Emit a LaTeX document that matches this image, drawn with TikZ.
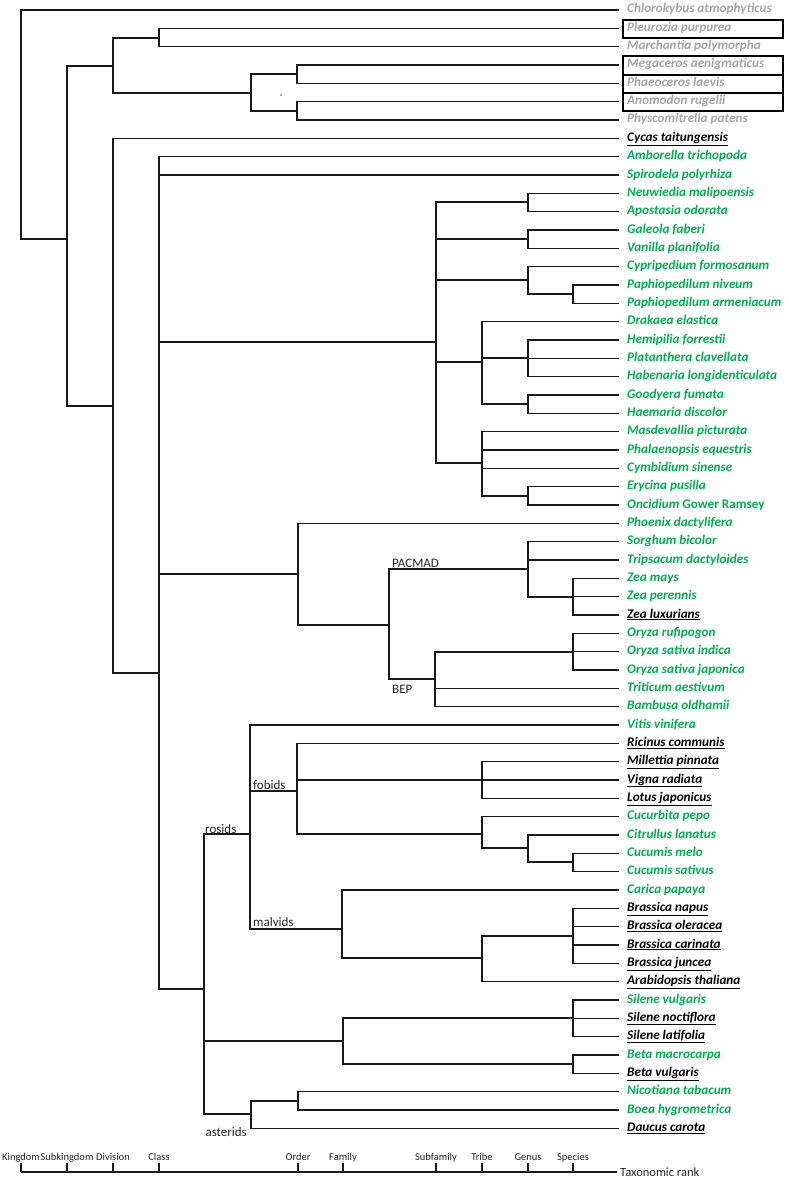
\documentclass[tikz,border=0pt]{standalone}
\usepackage{fontspec}
\setmainfont{Carlito}
\definecolor{spgreen}{RGB}{0,176,80}
\definecolor{spgrey}{RGB}{165,165,165}
\newcommand{\ulsp}[1]{\underline{#1}}

\begin{document}
\begin{tikzpicture}[x=1pt,y=-1pt,
    tree/.style={line width=1.4pt,draw=black!90,line join=miter},
    leaf/.style={anchor=west,inner xsep=8pt,inner ysep=0pt,text height=9pt,text depth=3pt},
    gr/.style={leaf,text=spgrey,font=\fontsize{13.2}{15}\selectfont\bfseries\itshape},
    gn/.style={leaf,text=spgreen,font=\fontsize{13.2}{15}\selectfont\bfseries\itshape},
    bk/.style={leaf,text=black,font=\fontsize{13.2}{15}\selectfont\bfseries\itshape},
    clade/.style={inner sep=0pt,text=black!85,font=\fontsize{13}{15}\selectfont},
    rank/.style={anchor=base,inner sep=0pt,text=black!85,font=\fontsize{10.5}{12}\selectfont}]
\useasboundingbox (0,0) rectangle (789,1180);

% leaves
\node[gr] (chl) at (619,10) {Chlorokybus atmophyticus};
\node[gr] (ple) at (619,28.3) {Pleurozia purpurea};
\node[gr] (mar) at (619,46.7) {Marchantia polymorpha};
\node[gr] (meg) at (619,65) {Megaceros aenigmaticus};
\node[gr] (pha) at (619,83.3) {Phaeoceros laevis};
\node[gr] (ano) at (619,101.7) {Anomodon rugelii};
\node[gr] (phy) at (619,120) {Physcomitrella patens};
\node[bk] (cyc) at (619,138.3) {\ulsp{Cycas taitungensis}};
\node[gn] (amb) at (619,156.7) {Amborella trichopoda};
\node[gn] (spi) at (619,175) {Spirodela polyrhiza};
\node[gn] (neu) at (619,193.3) {Neuwiedia malipoensis};
\node[gn] (aps) at (619,211.7) {Apostasia odorata};
\node[gn] (gal) at (619,230) {Galeola faberi};
\node[gn] (vpl) at (619,248.3) {Vanilla planifolia};
\node[gn] (cfo) at (619,266.7) {Cypripedium formosanum};
\node[gn] (pni) at (619,285) {Paphiopedilum niveum};
\node[gn] (par) at (619,303.3) {Paphiopedilum armeniacum};
\node[gn] (del) at (619,321.7) {Drakaea elastica};
\node[gn] (hfo) at (619,340) {Hemipilia forrestii};
\node[gn] (pcl) at (619,358.3) {Platanthera clavellata};
\node[gn] (hlo) at (619,376.7) {Habenaria longidenticulata};
\node[gn] (gfu) at (619,395) {Goodyera fumata};
\node[gn] (hdi) at (619,413.3) {Haemaria discolor};
\node[gn] (mpi) at (619,431.7) {Masdevallia picturata};
\node[gn] (peq) at (619,450) {Phalaenopsis equestris};
\node[gn] (csi) at (619,468.3) {Cymbidium sinense};
\node[gn] (epu) at (619,486.7) {Erycina pusilla};
\node[gn] (ogr) at (619,505) {Oncidium {\upshape Gower Ramsey}};
\node[gn] (pda) at (619,523.3) {Phoenix dactylifera};
\node[gn] (sbi) at (619,541.7) {Sorghum bicolor};
\node[gn] (tda) at (619,560) {Tripsacum dactyloides};
\node[gn] (zma) at (619,578.3) {Zea mays};
\node[gn] (zpe) at (619,596.7) {Zea perennis};
\node[bk] (zlu) at (619,615) {\ulsp{Zea luxurians}};
\node[gn] (oru) at (619,633.3) {Oryza rufipogon};
\node[gn] (osi) at (619,651.7) {Oryza sativa indica};
\node[gn] (osj) at (619,670) {Oryza sativa japonica};
\node[gn] (tae) at (619,688.3) {Triticum aestivum};
\node[gn] (bol) at (619,706.7) {Bambusa oldhamii};
\node[gn] (vvi) at (619,725) {Vitis vinifera};
\node[bk] (rco) at (619,743.3) {\ulsp{Ricinus communis}};
\node[bk] (mpn) at (619,761.7) {\ulsp{Millettia pinnata}};
\node[bk] (vra) at (619,780) {\ulsp{Vigna radiata}};
\node[bk] (lja) at (619,798.3) {\ulsp{Lotus japonicus}};
\node[gn] (cpe) at (619,816.7) {Cucurbita pepo};
\node[gn] (cla) at (619,835) {Citrullus lanatus};
\node[gn] (cme) at (619,853.3) {Cucumis melo};
\node[gn] (csa) at (619,871.7) {Cucumis sativus};
\node[gn] (cpa) at (619,890) {Carica papaya};
\node[bk] (bna) at (619,908.3) {\ulsp{Brassica napus}};
\node[bk] (bole) at (619,926.7) {\ulsp{Brassica oleracea}};
\node[bk] (bca) at (619,945) {\ulsp{Brassica carinata}};
\node[bk] (bju) at (619,963.3) {\ulsp{Brassica juncea}};
\node[bk] (ath) at (619,981.7) {\ulsp{Arabidopsis thaliana}};
\node[gn] (svu) at (619,1000) {Silene vulgaris};
\node[bk] (sno) at (619,1018.3) {\ulsp{Silene noctiflora}};
\node[bk] (sla) at (619,1036.7) {\ulsp{Silene latifolia}};
\node[gn] (bma) at (619,1055) {Beta macrocarpa};
\node[bk] (bvu) at (619,1073.3) {\ulsp{Beta vulgaris}};
\node[gn] (nta) at (619,1091.7) {Nicotiana tabacum};
\node[gn] (bhy) at (619,1110) {Boea hygrometrica};
\node[bk] (dca) at (619,1128.3) {\ulsp{Daucus carota}};

% boxes
\draw[line width=1.3pt] (623,20) rectangle (783,38);
\draw[line width=1.3pt] (623,56) rectangle (783,111);
\draw[line width=1.3pt] (623,75) -- (783,75) (623,93) -- (783,93);
\fill[black!70] (281,95) circle (0.8);

% inner nodes
\coordinate (root) at (21,124);
\coordinate (land) at (67,239);
\coordinate (bryo) at (113,66);
\coordinate (liver) at (159,38);
\coordinate (hm) at (251,93);
\coordinate (horn) at (297,74);
\coordinate (moss) at (297,111);
\coordinate (seed) at (113,406);
\coordinate (angio) at (159,673);
\coordinate (orch) at (436,342);
\coordinate (apo) at (528,202);
\coordinate (van) at (528,239);
\coordinate (cyp) at (528,280);
\coordinate (paph) at (573,294);
\coordinate (orc) at (482,362);
\coordinate (hab) at (528,358);
\coordinate (goo) at (528,404);
\coordinate (epi) at (482,463);
\coordinate (ery) at (528,496);
\coordinate (comm) at (298,574);
\coordinate (poa) at (389,625);
\coordinate (pac) at (528,569);
\coordinate (zea) at (573,597);
\coordinate (bep) at (435,679);
\coordinate (ory) at (573,652);
\coordinate (eudi) at (204,989);
\coordinate (ros) at (250,834);
\coordinate (fab) at (297,791);
\coordinate (leg) at (482,780);
\coordinate (cuc) at (482,834);
\coordinate (cit) at (528,848);
\coordinate (cum) at (573,862);
\coordinate (mal) at (342,929);
\coordinate (bra) at (482,958);
\coordinate (brs) at (573,936);
\coordinate (car) at (343,1041);
\coordinate (sil) at (573,1018);
\coordinate (beta) at (573,1064);
\coordinate (ast) at (251,1114);
\coordinate (sol) at (298,1101);

% branches
\draw[tree] (root) |- (chl.west) (root) |- (land);
\draw[tree] (land) |- (bryo) (land) |- (seed);
\draw[tree] (bryo) |- (liver) (bryo) |- (hm);
\draw[tree] (liver) |- (ple.west) (liver) |- (mar.west);
\draw[tree] (hm) |- (horn) (hm) |- (moss);
\draw[tree] (horn) |- (meg.west) (horn) |- (pha.west);
\draw[tree] (moss) |- (ano.west) (moss) |- (phy.west);
\draw[tree] (seed) |- (cyc.west) (seed) |- (angio);
\draw[tree] (angio) |- (amb.west) (angio) |- (spi.west) (angio) |- (orch)
  (angio) |- (comm) (angio) |- (eudi);
\draw[tree] (orch) |- (apo) (orch) |- (van) (orch) |- (cyp) (orch) |- (orc) (orch) |- (epi);
\draw[tree] (apo) |- (neu.west) (apo) |- (aps.west);
\draw[tree] (van) |- (gal.west) (van) |- (vpl.west);
\draw[tree] (cyp) |- (cfo.west) (cyp) |- (paph);
\draw[tree] (paph) |- (pni.west) (paph) |- (par.west);
\draw[tree] (orc) |- (del.west) (orc) |- (hab) (orc) |- (goo);
\draw[tree] (hab) |- (hfo.west) (hab) |- (pcl.west) (hab) |- (hlo.west);
\draw[tree] (goo) |- (gfu.west) (goo) |- (hdi.west);
\draw[tree] (epi) |- (mpi.west) (epi) |- (peq.west) (epi) |- (csi.west) (epi) |- (ery);
\draw[tree] (ery) |- (epu.west) (ery) |- (ogr.west);
\draw[tree] (comm) |- (pda.west) (comm) |- (poa);
\draw[tree] (poa) |- (pac) (poa) |- (bep);
\draw[tree] (pac) |- (sbi.west) (pac) |- (tda.west) (pac) |- (zea);
\draw[tree] (zea) |- (zma.west) (zea) |- (zpe.west) (zea) |- (zlu.west);
\draw[tree] (bep) |- (ory) (bep) |- (tae.west) (bep) |- (bol.west);
\draw[tree] (ory) |- (oru.west) (ory) |- (osi.west) (ory) |- (osj.west);
\draw[tree] (eudi) |- (ros) (eudi) |- (car) (eudi) |- (ast);
\draw[tree] (ros) |- (vvi.west) (ros) |- (fab) (ros) |- (mal);
\draw[tree] (fab) |- (rco.west) (fab) |- (leg) (fab) |- (cuc);
\draw[tree] (leg) |- (mpn.west) (leg) |- (vra.west) (leg) |- (lja.west);
\draw[tree] (cuc) |- (cpe.west) (cuc) |- (cit);
\draw[tree] (cit) |- (cla.west) (cit) |- (cum);
\draw[tree] (cum) |- (cme.west) (cum) |- (csa.west);
\draw[tree] (mal) |- (cpa.west) (mal) |- (bra);
\draw[tree] (bra) |- (brs) (bra) |- (ath.west);
\draw[tree] (brs) |- (bna.west) (brs) |- (bole.west) (brs) |- (bca.west) (brs) |- (bju.west);
\draw[tree] (car) |- (sil) (car) |- (beta);
\draw[tree] (sil) |- (svu.west) (sil) |- (sno.west) (sil) |- (sla.west);
\draw[tree] (beta) |- (bma.west) (beta) |- (bvu.west);
\draw[tree] (ast) |- (sol) (ast) |- (dca.west);
\draw[tree] (sol) |- (nta.west) (sol) |- (bhy.west);

% clade names
\node[clade,anchor=base west] (pacmad) at (392,567) {PACMAD};
\node[clade,anchor=north west] (bepl) at (392,685) {BEP};
\node[clade,anchor=base west] (fobl) at (253,789) {fobids};
\node[clade,anchor=base west] (rosl) at (205,833) {rosids};
\node[clade,anchor=base west] (mall) at (253,926) {malvids};
\node[clade,anchor=east] (astl) at (247,1132) {asterids};

% rank axis
\node[anchor=west,inner xsep=3pt,text=black!85,font=\fontsize{12.5}{14}\selectfont] (trk) at (617,1172) {Taxonomic rank};
\draw[tree] (21,1172) -- (trk.west);
\foreach \x/\r in {21/Kingdom,67/Subkingdom,113/Division,159/Class,298/Order,343/Family,436/Subfamily,482/Tribe,528/Genus,573/Species}{
  \draw[tree] (\x,1172) -- (\x,1163);
  \node[rank] (\r) at (\x,1160) {\r};
}
\end{tikzpicture}
\end{document}
